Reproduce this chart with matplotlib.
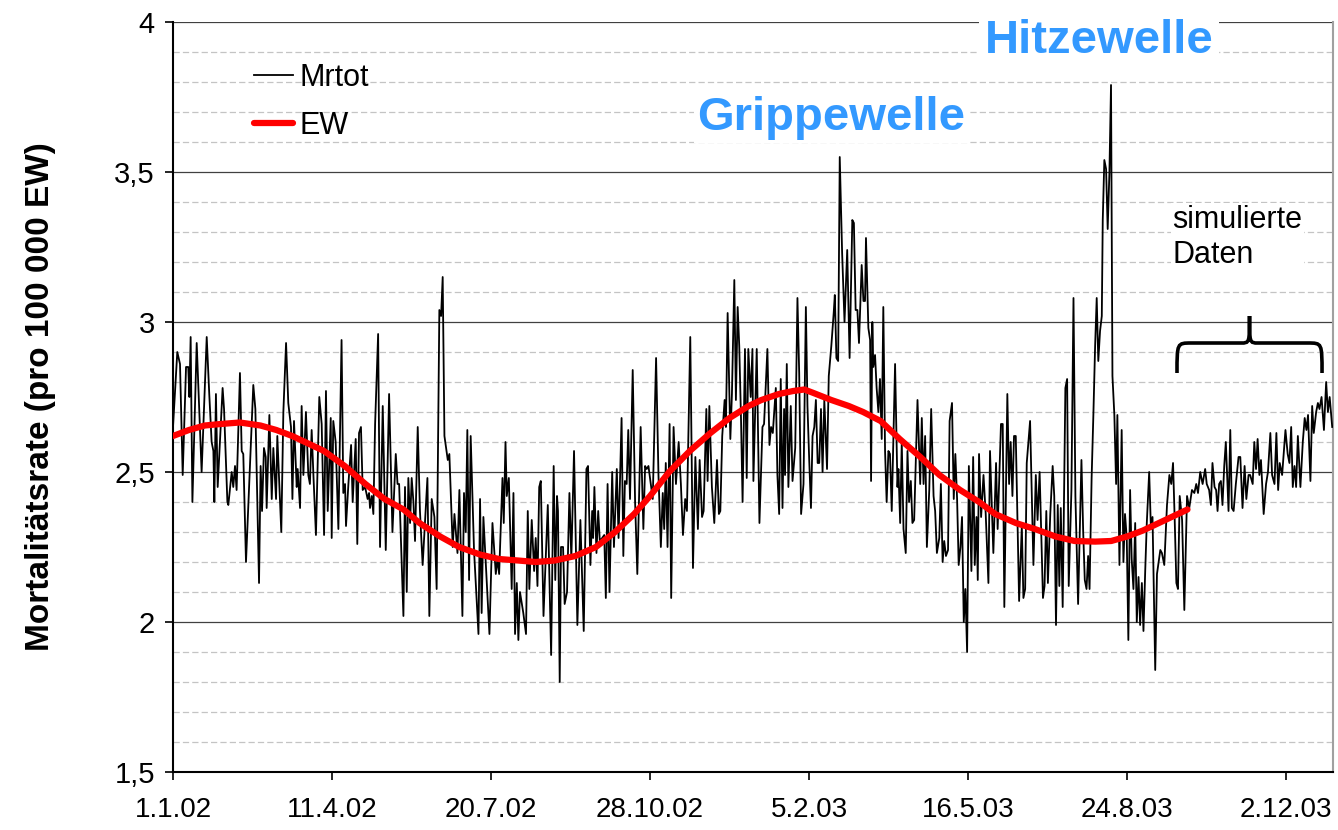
import matplotlib
matplotlib.use("Agg")
import matplotlib.pyplot as plt
from matplotlib.path import Path
from matplotlib.patches import PathPatch
from matplotlib.ticker import FixedLocator, MultipleLocator

plt.rcParams['font.family'] = ['Liberation Sans', 'DejaVu Sans']

# ---------------- data ----------------
# days since 1.1.2002
mrtot_day = [
    0.0, 2.7, 4.4, 6.1, 8.2, 9.6, 10.3, 11.1, 12.2, 14.9, 18.0, 21.2, 22.8, 24.3, 25.4, 26.0, 27.0, 28.1,
    31.2, 32.1, 34.2, 34.8, 36.9, 37.9, 39.0, 40.0, 42.1, 43.2, 44.2, 45.9, 50.5, 51.8, 54.1, 55.1, 56.0,
    57.2, 58.3, 58.9, 60.6, 62.1, 63.1, 64.8, 65.6, 68.1, 69.4,
    71.1, 72.5, 74.2, 75.1, 76.1, 77.8, 78.4, 79.9, 80.9, 82.0, 83.6, 85.1, 86.1, 87.2, 88.3, 89.9, 92.0,
    93.5, 95.0, 96.2, 97.3, 99.2, 99.8, 100.8, 102.3, 104.0, 106.0, 107.1, 108.2, 108.8, 110.3, 112.0,
    113.0, 114.9, 115.9, 117.0, 118.2, 119.3, 120.8, 122.4, 123.3, 123.9, 125.0, 126.0, 127.1, 129.0,
    130.2, 131.9, 133.8, 135.9, 138.0, 140.1, 141.2, 142.2,
    144.9, 145.9, 147.0, 148.0, 149.1, 150.1, 151.2, 152.2, 153.9, 155.3, 157.0, 160.0, 161.2, 162.7,
    164.4, 165.8, 167.5, 168.6, 169.6, 170.7, 172.8, 173.8, 175.9, 177.0, 178.9, 180.1, 182.0, 183.0,
    184.1, 185.1, 186.2, 187.2, 189.3, 192.1, 193.1, 194.1, 195.2, 199.0, 200.9, 203.0, 204.0, 205.1,
    207.2, 208.0, 209.1, 209.9, 211.2, 213.0, 214.1, 215.1, 216.2,
    217.2, 218.2, 220.3, 222.0, 223.1, 224.1, 225.6, 227.1, 228.1, 229.2, 230.3, 231.3, 233.0, 234.5,
    235.7, 237.8, 239.4, 240.4, 241.5, 242.1, 243.2, 244.0, 245.3, 246.3, 247.8, 249.3, 250.5, 252.2,
    254.3, 256.2, 258.3, 260.0, 261.0, 262.5, 263.6, 264.2, 265.0, 266.3, 267.4, 268.4, 269.9, 271.2,
    272.2, 273.3, 274.5, 276.2, 277.3, 279.1, 280.2, 282.1, 283.2, 284.2, 285.3, 286.3, 287.4,
    289.1, 290.6, 292.0, 294.1, 295.8, 296.9, 297.9, 299.0, 301.7, 303.8, 305.3, 306.8, 308.0, 308.9,
    309.9, 311.0, 312.3, 313.3, 314.8, 316.3, 318.0, 319.4, 320.7, 322.1, 323.2, 325.3, 327.0, 328.5,
    330.1, 331.2, 332.7, 333.7, 335.4, 336.2, 337.3, 338.9, 340.4, 342.1, 343.3, 344.2, 345.4, 346.9,
    347.7, 348.8, 350.5, 351.5, 353.0, 354.0, 355.1, 356.1, 357.2, 358.2,
    359.7, 360.8, 361.8, 363.3, 364.4, 365.0, 367.1, 368.8, 370.7, 371.7, 373.8, 375.1, 376.1, 377.2,
    379.1, 380.1, 381.2, 382.2, 383.3, 384.3, 384.9, 386.0, 387.0, 388.5, 389.6, 391.3, 392.7, 393.8,
    395.0, 396.5, 398.0, 399.0, 400.1, 401.2, 402.2, 403.3, 404.3, 405.4, 406.4, 407.5, 408.5, 409.6,
    411.3, 412.4, 414.0, 415.5, 416.2, 417.2, 418.3, 419.3, 420.8, 422.3, 424.0, 425.5, 427.2, 428.2,
    429.3, 430.4, 431.4,
    433.1, 434.2, 435.2, 435.8, 437.3, 438.4, 439.0, 439.8, 440.4, 441.5, 442.5, 443.6, 444.6, 445.7,
    446.7, 447.8, 448.8, 449.9, 450.9, 452.0, 454.1, 455.6, 456.2, 457.3, 458.3, 459.4, 460.8, 461.9,
    462.9, 464.0, 465.0, 466.1, 468.2, 469.9, 470.9, 472.0, 473.0, 474.1, 475.6, 476.8, 478.3, 479.3,
    480.4, 481.9, 482.9, 484.0, 485.0, 486.1, 487.4, 488.4, 489.9, 491.0, 492.0, 493.1, 494.1, 495.2,
    496.2, 497.3, 498.3, 499.4, 500.5, 502.1, 503.2, 504.2, 505.3,
    506.1, 506.9, 508.2, 509.7, 511.1, 512.8, 513.8, 515.9, 517.6, 518.6, 520.7, 521.8, 522.8, 524.7,
    525.8, 526.8, 527.9, 528.9, 530.0, 532.1, 533.8, 534.8, 535.9, 536.9, 539.0, 541.1, 542.6, 543.7,
    545.0, 547.1, 548.1, 549.2, 550.2, 551.7, 553.2, 554.2, 555.3, 556.4, 557.4, 558.3, 559.5, 561.2,
    562.3, 563.3, 565.0, 566.3, 567.5, 569.2, 571.3, 572.4, 573.4, 574.5, 575.5, 576.4,
    577.7, 578.8, 579.9, 580.9, 581.9, 583.0, 584.1, 584.7, 585.7, 586.8, 587.8, 588.9, 589.9, 590.8,
    592.0, 593.1, 593.9, 595.2, 596.6, 597.7, 598.7, 599.8, 600.8, 601.9, 602.9, 604.0, 605.1, 606.1,
    607.2, 608.2, 609.3, 610.3, 611.4, 612.4, 613.9, 615.0, 616.0, 617.7, 618.8, 620.9, 621.9, 623.4,
    625.1, 626.6, 627.8, 628.9, 629.9, 631.0, 632.0, 633.1, 634.6, 636.0, 637.7, 639.1, 640.8, 642.3,
    643.5, 644.6, 646.0, 647.5,
    649.1, 650.1, 651.6, 652.7, 653.7, 655.0, 656.0, 656.9, 657.9, 659.0, 660.0, 661.1, 662.1, 663.8,
    664.9, 665.9, 667.0, 668.4, 670.1, 671.2, 672.6, 673.9, 675.0, 676.4, 677.4, 679.0, 680.0, 681.1,
    682.1, 683.2, 684.2, 685.9, 687.4, 688.6, 690.1, 691.2, 692.7, 693.9, 695.0, 696.0, 697.5, 699.6,
    701.0, 702.1, 703.2, 704.2, 705.3, 706.3, 707.4, 709.0, 710.5, 711.7, 712.8, 713.8, 715.3, 716.4,
    717.4, 718.9, 720.0, 721.0, 722.3, 723.8, 725.2, 726.3, 727.4, 729.0,
]
mrtot_val = [
    2.65, 2.90, 2.86, 2.49, 2.85, 2.85, 2.75, 2.95, 2.40, 2.93, 2.50, 2.95, 2.76, 2.60, 2.57, 2.40, 2.76, 2.45,
    2.78, 2.71, 2.40, 2.39, 2.50, 2.45, 2.52, 2.44, 2.83, 2.57, 2.56, 2.20, 2.79, 2.71, 2.13, 2.52, 2.37,
    2.58, 2.55, 2.38, 2.69, 2.41, 2.58, 2.41, 2.62, 2.30, 2.70,
    2.93, 2.73, 2.65, 2.41, 2.67, 2.45, 2.51, 2.38, 2.72, 2.49, 2.70, 2.49, 2.46, 2.64, 2.49, 2.29, 2.75,
    2.66, 2.29, 2.77, 2.37, 2.68, 2.28, 2.67, 2.60, 2.31, 2.94, 2.43, 2.46, 2.32, 2.46, 2.59,
    2.40, 2.61, 2.26, 2.63, 2.65, 2.44, 2.45, 2.41, 2.43, 2.38, 2.42, 2.36, 2.66, 2.96,
    2.25, 2.72, 2.24, 2.76, 2.30, 2.56, 2.46, 2.46,
    2.02, 2.45, 2.10, 2.48, 2.33, 2.48, 2.40, 2.27, 2.65, 2.37, 2.19, 2.48, 2.02, 2.41,
    2.35, 2.11, 3.04, 3.02, 3.15, 2.62, 2.54, 2.56, 2.25, 2.36, 2.23, 2.44, 2.02, 2.43,
    2.30, 2.64, 2.14, 2.62, 2.24, 1.96, 2.41, 2.03, 2.35, 1.96, 2.33, 2.16, 2.21, 2.16,
    2.48, 2.33, 2.60, 2.42, 2.48, 2.11, 2.43, 1.96, 2.13,
    1.94, 2.10, 2.03, 1.96, 2.37, 2.11, 2.34, 2.17, 2.28, 2.12, 2.45, 2.47, 2.02, 2.23,
    2.39, 1.89, 2.52, 2.14, 2.42, 2.37, 1.80, 2.25, 2.25, 2.06, 2.10, 2.43, 2.21, 2.57,
    1.99, 2.34, 1.97, 2.51, 2.52, 2.19, 2.37, 2.28, 2.45, 2.23, 2.37, 2.27, 2.28, 2.29,
    2.08, 2.46, 2.10, 2.50, 2.25, 2.51, 2.28, 2.68, 2.22, 2.47, 2.46, 2.64, 2.41,
    2.84, 2.40, 2.16, 2.65, 2.31, 2.52, 2.51, 2.52, 2.41, 2.88, 2.49, 2.25, 2.43, 2.31,
    2.53, 2.25, 2.66, 2.08, 2.65, 2.46, 2.60, 2.46, 2.29, 2.41, 2.37, 2.95, 2.18, 2.55,
    2.31, 2.54, 2.35, 2.37, 2.71, 2.47, 2.72, 2.45, 2.33, 2.54, 2.36, 2.37, 2.62, 2.74,
    2.65, 3.03, 2.61, 2.76, 3.14, 2.74, 3.05, 2.92, 2.68, 2.40,
    2.91, 2.48, 2.91, 2.75, 2.91, 2.47, 2.91, 2.33, 2.65, 2.66, 2.91, 2.59, 2.65, 2.63,
    2.78, 2.49, 2.36, 2.81, 2.38, 2.71, 2.49, 2.86, 2.45, 2.72, 2.47, 2.58, 3.08, 2.83,
    2.36, 2.46, 3.05, 2.72, 2.54, 2.38, 2.62, 2.65, 2.74, 2.53, 2.53, 2.71, 2.50, 2.74,
    2.51, 2.82, 2.92, 3.03, 3.09, 2.88, 2.87, 3.55, 3.23, 3.00, 3.24, 2.88, 3.34, 3.33,
    3.04, 3.04, 2.93,
    3.19, 3.07, 3.07, 3.28, 2.98, 2.94, 2.47, 3.00, 2.85, 2.89, 2.78, 2.70, 2.81, 2.61,
    3.05, 2.57, 2.40, 2.57, 2.56, 2.37, 2.86, 2.45, 2.51, 2.33, 2.60, 2.31, 2.23, 2.57,
    2.40, 2.47, 2.33, 2.34, 2.74, 2.46, 2.68, 2.46, 2.62, 2.25, 2.44, 2.71, 2.42, 2.37,
    2.23, 2.28, 2.46, 2.20, 2.27, 2.22, 2.24, 2.67, 2.73, 2.41, 2.56, 2.41, 2.19, 2.25,
    2.35, 2.00, 2.11, 1.90, 2.52, 2.17, 2.55, 2.19, 2.35,
    2.14, 2.56, 2.35, 2.49, 2.36, 2.13, 2.57, 2.23, 2.53, 2.31, 2.66, 2.66, 2.05, 2.76,
    2.46, 2.60, 2.42, 2.62, 2.62, 2.07, 2.32, 2.08, 2.11, 2.53, 2.67, 2.19, 2.49, 2.34,
    2.50, 2.08, 2.12, 2.37, 2.13, 2.36, 2.52, 2.42, 1.99, 2.39, 2.12, 2.38, 2.05, 2.78,
    2.81, 2.12, 2.44, 3.08, 2.42, 2.06, 2.54, 2.30, 2.14, 2.11, 2.22, 2.11,
    2.48, 2.69, 2.92, 3.08, 2.87, 2.97, 3.02, 3.34, 3.54, 3.51, 3.31, 3.50, 3.79, 2.82,
    2.69, 2.46, 2.69, 2.19, 2.64, 2.20, 2.36, 2.28, 1.94, 2.44, 2.21, 2.11, 2.33, 2.00,
    2.15, 1.99, 2.13, 1.97, 2.17, 2.33, 2.50, 2.31, 2.35, 1.84, 2.16, 2.24, 2.23, 2.19,
    2.39, 2.49, 2.46, 2.53, 2.35, 2.13, 2.11, 2.42, 2.34, 2.04, 2.42, 2.38, 2.44, 2.43,
    2.46, 2.43, 2.50, 2.46,
    2.51, 2.46, 2.44, 2.39, 2.53, 2.45, 2.44, 2.37, 2.46, 2.47, 2.39, 2.52, 2.60, 2.37,
    2.64, 2.38, 2.37, 2.46, 2.55, 2.55, 2.38, 2.52, 2.41, 2.49, 2.49, 2.46, 2.60, 2.51,
    2.61, 2.49, 2.54, 2.36, 2.46, 2.50, 2.63, 2.49, 2.46, 2.63, 2.44, 2.53, 2.49, 2.64,
    2.56, 2.53, 2.65, 2.45, 2.52, 2.45, 2.62, 2.45, 2.60, 2.68, 2.64, 2.69, 2.47, 2.72,
    2.63, 2.70, 2.73, 2.71, 2.75, 2.64, 2.80, 2.70, 2.75, 2.65,
]

ew_day = [0, 10, 20, 30, 42, 55, 65, 75, 85, 95, 108, 121, 133, 145, 155, 168, 180, 193, 205, 217,
          228, 240, 253, 266, 278, 290, 300, 312, 325, 338, 350, 362, 370, 381, 390, 397, 402, 414,
          425, 434, 445, 457, 470, 482, 495, 507, 517, 530, 542, 555, 567, 580, 590, 600, 610, 620,
          630, 638]
ew_val = [2.62, 2.64, 2.655, 2.66, 2.665, 2.655, 2.64, 2.62, 2.595, 2.57, 2.52, 2.46, 2.41, 2.375,
          2.33, 2.285, 2.25, 2.225, 2.21, 2.205, 2.20, 2.205, 2.22, 2.25, 2.30, 2.36, 2.42, 2.50,
          2.57, 2.63, 2.68, 2.72, 2.74, 2.76, 2.77, 2.775, 2.765, 2.74, 2.72, 2.70, 2.67, 2.61, 2.55,
          2.49, 2.44, 2.40, 2.36, 2.33, 2.31, 2.285, 2.27, 2.268, 2.27, 2.285, 2.305, 2.33, 2.355,
          2.375]

x_tick_days = [0, 100, 200, 300, 400, 500, 600, 700]
x_tick_labels = ["1.1.02", "11.4.02", "20.7.02", "28.10.02", "5.2.03", "16.5.03", "24.8.03", "2.12.03"]
y_ticks = [1.5, 2.0, 2.5, 3.0, 3.5, 4.0]
y_tick_labels = ["1,5", "2", "2,5", "3", "3,5", "4"]

# ---------------- figure ----------------
W, H = 1338, 830
fig = plt.figure(figsize=(W / 100, H / 100), dpi=100)
ax = fig.add_axes([173 / W, 1 - 772 / H, (1333 - 173) / W, (772 - 22) / H])
ax.set_xlim(0, 729.5)
ax.set_ylim(1.5, 4.0)

ax.yaxis.set_major_locator(FixedLocator(y_ticks))
ax.yaxis.set_minor_locator(MultipleLocator(0.1))
ax.set_yticklabels(y_tick_labels)
ax.xaxis.set_major_locator(FixedLocator(x_tick_days))
ax.set_xticklabels(x_tick_labels)

ax.grid(which='major', axis='y', color='#404040', lw=0.9, zorder=0)
ax.grid(which='minor', axis='y', color='#c4c4c4', lw=0.9, ls=(0, (5, 2.5)), zorder=0)
ax.set_axisbelow(True)

ax.tick_params(axis='both', which='major', direction='out', length=6, width=1.2, colors='black')
ax.tick_params(axis='x', which='major', labelsize=20, pad=12)
ax.tick_params(axis='y', which='major', labelsize=21, pad=7)
ax.tick_params(axis='y', which='minor', length=0)

for s in ['left', 'bottom']:
    ax.spines[s].set_color('black')
    ax.spines[s].set_linewidth(1.5)
ax.spines['top'].set_visible(False)
ax.spines['right'].set_color('#a0a0a0')
ax.spines['right'].set_linewidth(1.5)

ax.plot(mrtot_day, mrtot_val, color='black', lw=1.3, label='Mrtot', zorder=3)
ax.plot(ew_day, ew_val, color='#ff0000', lw=4.5, solid_capstyle='round', label='EW', zorder=4)

ax.set_ylabel("Mortalitätsrate (pro 100 000 EW)", fontsize=24, fontweight='bold', labelpad=42)

leg = ax.legend(loc='upper left', bbox_to_anchor=(0.0695, 0.946), frameon=False, fontsize=22,
                handlelength=1.3, handletextpad=0.2, labelspacing=0.6, borderpad=0,
                borderaxespad=0)

blue = '#3399ff'
ax.text(414, 3.68, "Grippewelle", fontsize=34, fontweight='bold', color=blue, ha='center',
        va='center', zorder=6, bbox=dict(facecolor='white', edgecolor='none', pad=2))
ax.text(582.5, 3.935, "Hitzewelle", fontsize=34, fontweight='bold', color=blue, ha='center',
        va='center', zorder=6, bbox=dict(facecolor='white', edgecolor='none', pad=4))
ax.text(628.3, 3.39, "simulierte\nDaten", fontsize=22, color='black', ha='left', va='top',
        linespacing=1.2, zorder=6, bbox=dict(facecolor='white', edgecolor='none', pad=1))

# curly brace
xl, xr, xm = 631.4, 722.6, 677.0
yb, ybar, ytip = 2.83, 2.93, 3.02
rx = 9.0
verts = [(xl, yb), (xl, ybar), (xl, ybar), (xl + rx, ybar), (xm - rx * 0.6, ybar),
         (xm, ybar), (xm, ybar), (xm, ytip),
         (xr, yb), (xr, ybar), (xr, ybar), (xr - rx, ybar), (xm + rx * 0.6, ybar),
         (xm, ybar), (xm, ybar), (xm, ytip)]
codes = [Path.MOVETO, Path.CURVE4, Path.CURVE4, Path.CURVE4, Path.LINETO,
         Path.CURVE4, Path.CURVE4, Path.CURVE4] * 2
ax.add_patch(PathPatch(Path(verts, codes), facecolor='none', edgecolor='black', lw=2.6,
                       zorder=6, capstyle='butt'))

fig.savefig("out.png", dpi=100)
